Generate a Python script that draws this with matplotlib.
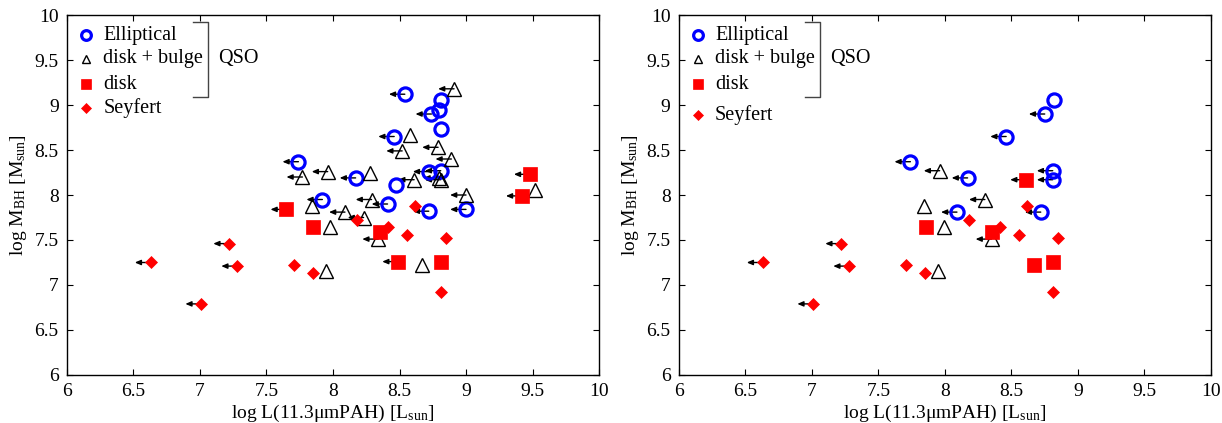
import matplotlib
matplotlib.use("Agg")
import numpy as np
from matplotlib import pyplot as plt

plt.rcParams["font.family"] = ["Liberation Serif", "DejaVu Serif"]
plt.rcParams["mathtext.fontset"] = "custom"
plt.rcParams["mathtext.rm"] = "Liberation Serif"
plt.rcParams["mathtext.it"] = "Liberation Serif:italic"

# ---- left panel data (x = log L(11.3um PAH), y = log M_BH, lim = upper limit in x)
ell_x = [8.54, 8.81, 8.74, 8.80, 8.81, 8.46, 7.74, 8.72, 8.81, 8.17, 8.47, 7.92, 8.41, 8.72, 9.00]
ell_y = [9.12, 9.06, 8.90, 8.94, 8.73, 8.65, 8.37, 8.26, 8.27, 8.19, 8.11, 7.95, 7.90, 7.82, 7.84]
ell_lim = [1, 0, 1, 0, 0, 1, 1, 1, 1, 1, 0, 1, 1, 1, 1]

db_x = [8.91, 8.58, 8.52, 8.79, 8.89, 7.96, 7.77, 8.28, 8.61, 8.81, 8.80, 9.52, 9.00,
        7.84, 8.29, 8.09, 8.23, 7.98, 8.34, 8.67, 7.95]
db_y = [9.18, 8.67, 8.49, 8.53, 8.40, 8.26, 8.20, 8.24, 8.17, 8.17, 8.19, 8.06, 8.00,
        7.88, 7.95, 7.81, 7.75, 7.64, 7.51, 7.22, 7.16]
db_lim = [1, 0, 1, 1, 1, 1, 1, 0, 1, 1, 1, 0, 1, 0, 1, 1, 1, 0, 1, 0, 0]

disk_x = [9.48, 9.42, 7.65, 7.85, 8.35, 8.49, 8.81]
disk_y = [8.23, 7.99, 7.84, 7.64, 7.59, 7.26, 7.26]
disk_lim = [1, 1, 1, 0, 0, 1, 0]

sey_x = [8.62, 8.18, 8.41, 8.56, 8.85, 7.71, 7.85, 8.81, 7.22, 6.63, 7.28, 7.01]
sey_y = [7.88, 7.72, 7.64, 7.55, 7.52, 7.22, 7.13, 6.92, 7.46, 7.25, 7.21, 6.79]
sey_lim = [0, 0, 0, 0, 0, 0, 0, 0, 1, 1, 1, 1]

# ---- right panel data
ell2_x = [8.82, 8.75, 8.46, 7.74, 8.17, 8.81, 8.81, 8.09, 8.72]
ell2_y = [9.06, 8.90, 8.65, 8.37, 8.19, 8.27, 8.17, 7.81, 7.81]
ell2_lim = [0, 1, 1, 1, 1, 1, 1, 1, 1]

db2_x = [7.96, 8.30, 7.84, 7.99, 8.35, 7.95]
db2_y = [8.27, 7.95, 7.88, 7.64, 7.51, 7.16]
db2_lim = [1, 1, 0, 0, 1, 0]

disk2_x = [8.61, 7.86, 8.35, 8.67, 8.81]
disk2_y = [8.17, 7.64, 7.59, 7.22, 7.25]
disk2_lim = [1, 0, 0, 0, 0]

sey2_x = sey_x
sey2_y = sey_y
sey2_lim = sey_lim

legend_labels = ["Elliptical", "disk + bulge", "disk", "Seyfert"]

ARROW = 0.12
styles = [
    dict(marker="o", ms=9.5, mfc="none", mec="blue", mew=2.3),
    dict(marker="^", ms=9.5, mfc="none", mec="black", mew=1.0),
    dict(marker="s", ms=9.5, mfc="red", mec="red", mew=0.5),
    dict(marker="D", ms=6.5, mfc="red", mec="red", mew=0.5),
]


def draw_panel(ax, groups, sey_legend_y):
    for (gx, gy, glim), st in zip(groups, styles):
        gx = np.asarray(gx)
        gy = np.asarray(gy)
        glim = np.asarray(glim, dtype=bool)
        for x, y in zip(gx[glim], gy[glim]):
            ax.annotate("", xy=(x - ARROW, y), xytext=(x, y),
                        arrowprops=dict(arrowstyle="-|>,head_length=0.35,head_width=0.15",
                                        color="black", lw=1.0, shrinkA=0, shrinkB=0),
                        zorder=2)
        ax.plot(gx, gy, ls="none", zorder=3, **st)

    # hand-made legend with the QSO bracket
    leg_y = [0.944, 0.878, 0.808, sey_legend_y]
    leg_sizes = [7, 6, 7, 5.5]
    for st, ly, lab, ms in zip(styles, leg_y, legend_labels, leg_sizes):
        s = dict(st)
        s["ms"] = ms
        ax.plot([0.036], [ly], transform=ax.transAxes, ls="none", clip_on=False, **s)
        ax.text(0.068, ly, lab, transform=ax.transAxes, va="center", ha="left", fontsize=14.5)
    bx = 0.266
    ax.plot([bx - 0.03, bx, bx, bx - 0.03], [0.981, 0.981, 0.772, 0.772],
            transform=ax.transAxes, color="#444444", lw=1.0)
    ax.text(bx + 0.018, 0.878, "QSO", transform=ax.transAxes, va="center", ha="left",
            fontsize=14.5)

    ax.set_xlim(6, 10)
    ax.set_ylim(6, 10)
    ax.set_xticks(np.arange(6, 10.01, 0.5))
    ax.set_yticks(np.arange(6, 10.01, 0.5))
    ax.set_xticklabels(["6", "6.5", "7", "7.5", "8", "8.5", "9", "9.5", "10"])
    ax.set_yticklabels(["6", "6.5", "7", "7.5", "8", "8.5", "9", "9.5", "10"])
    ax.tick_params(direction="in", top=True, right=True, labelsize=14, length=4.5, pad=6)
    ax.set_xlabel(r"log L(11.3μmPAH) [L$_{\rm sun}$]", fontsize=14, labelpad=2)
    ax.set_ylabel(r"log M$_{\rm BH}$ [M$_{\rm sun}$]", fontsize=14, labelpad=4)
    for sp in ax.spines.values():
        sp.set_linewidth(1.0)


fig = plt.figure(figsize=(12.22, 4.23), dpi=100)
ax1 = fig.add_axes([0.0548, 0.1135, 0.4354, 0.851])
ax2 = fig.add_axes([0.5556, 0.1135, 0.4354, 0.851])

draw_panel(ax1, [(ell_x, ell_y, ell_lim), (db_x, db_y, db_lim),
                 (disk_x, disk_y, disk_lim), (sey_x, sey_y, sey_lim)], 0.742)
draw_panel(ax2, [(ell2_x, ell2_y, ell2_lim), (db2_x, db2_y, db2_lim),
                 (disk2_x, disk2_y, disk2_lim), (sey2_x, sey2_y, sey2_lim)], 0.722)

fig.savefig("out.png", dpi=100)
